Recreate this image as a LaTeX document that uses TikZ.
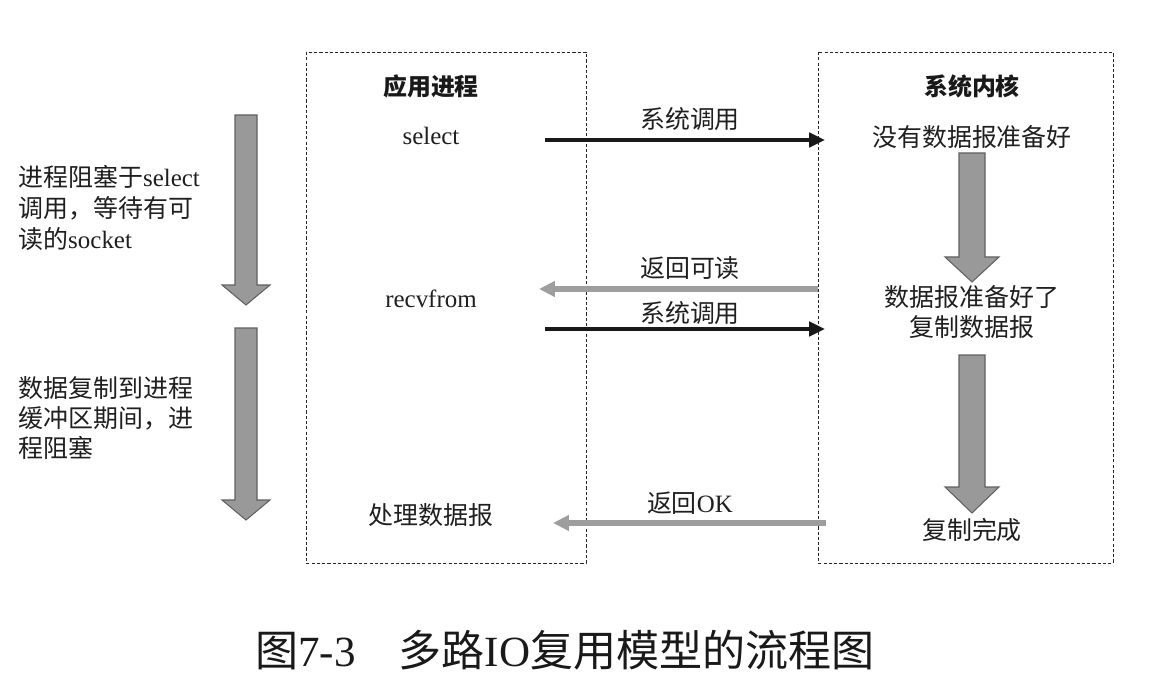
\documentclass[tikz,border=0pt]{standalone}
\usepackage{fontspec}
\setmainfont{Liberation Serif}
\newfontfamily\cjk{Noto Sans CJK SC}
\usetikzlibrary{arrows.meta}
\tikzset{
    cadre/.style={draw=black!85, line width=0.55pt, dash pattern=on 1.8pt off 1.2pt},
    txt/.style={inner sep=0pt, text=black!88, font=\fontsize{14.2}{17.6}\selectfont},
    zh/.style={inner sep=0pt, text=black!88, font=\cjk\fontsize{14.2}{17.2}\selectfont},
    titre/.style={inner sep=0pt, text=black!90, font=\cjk\bfseries\fontsize{13.6}{16}\selectfont},
    appel/.style={draw=black!90, line width=2.8pt, -{Triangle[length=9pt,width=8pt]}},
    retour/.style={draw=black!38, line width=3.3pt, -{Triangle[length=9pt,width=8.5pt]}},
    bloc/.style={fill=black!40, draw=black!62, line width=0.6pt, line join=miter},
  }
\begin{document}
\begin{tikzpicture}[x=0.02cm,y=-0.02cm]
  \useasboundingbox (0,0) rectangle (1154,696);
  % cadres
  \draw[cadre] (306,52) rectangle (586,563);
  \draw[cadre] (818,52) rectangle (1113,563);
  \node[titre] (app) at (431,86) {应用进程};
  \node[titre] (noyau) at (972,86) {系统内核};
  % cote application
  \node[txt] (select) at (431,136) {select};
  \node[txt] (recvfrom) at (431,299) {recvfrom};
  \node[zh] (traite) at (431,515) {处理数据报};
  % cote noyau
  \node[zh] (pasprete) at (972,137) {没有数据报准备好};
  \node[zh, align=center] (prete) at (972,312) {数据报准备好了\\复制数据报};
  \node[zh] (fini) at (972,530) {复制完成};
  % blocage
  \node[txt, anchor=north west, align=left] (bloc1) at (18,165)
       {{\cjk 进程阻塞于}select\\{\cjk 调用，等待有可}\\{\cjk 读的}socket};
  \node[zh, anchor=north west, align=left] (bloc2) at (18,376)
       {数据复制到进程\\缓冲区期间，进\\程阻塞};
  \draw[bloc] (235,115) -- (257,115) -- (257,285) -- (270,285) -- (246,305) -- (222,285) -- (235,285) -- cycle;
  \draw[bloc] (235,328) -- (257,328) -- (257,500) -- (270,500) -- (246,520) -- (222,500) -- (235,500) -- cycle;
  \draw[bloc] (959,153) -- (985,153) -- (985,257) -- (999,257) -- (972,282) -- (945,257) -- (959,257) -- cycle;
  \draw[bloc] (959,355) -- (985,355) -- (985,487) -- (999,487) -- (972,513) -- (945,487) -- (959,487) -- cycle;
  % appels et retours
  \coordinate (a1) at (545,140);
  \coordinate (k1) at (825,140);
  \coordinate (k2) at (818,289);
  \coordinate (a2) at (539,289);
  \coordinate (a3) at (545,329);
  \coordinate (k3) at (825,329);
  \coordinate (k4) at (826,523);
  \coordinate (a4) at (553,523);
  \draw[appel] (a1) -- (k1);
  \draw[retour] (k2) -- (a2);
  \draw[appel] (a3) -- (k3);
  \draw[retour] (k4) -- (a4);
  \node[zh] (sys1) at (690,119) {系统调用};
  \node[zh] (lisible) at (690,268) {返回可读};
  \node[zh] (sys2) at (690,313) {系统调用};
  \node[zh] (ok) at (690,503) {返回{\rmfamily OK}};
  % legende
  \node[inner sep=0pt, text=black!90, font=\cjk\fontsize{24.5}{28}\selectfont] (legende) at (565,650)
       {图{\rmfamily 7-3}　多路{\rmfamily IO}复用模型的流程图};
\end{tikzpicture}
\end{document}
